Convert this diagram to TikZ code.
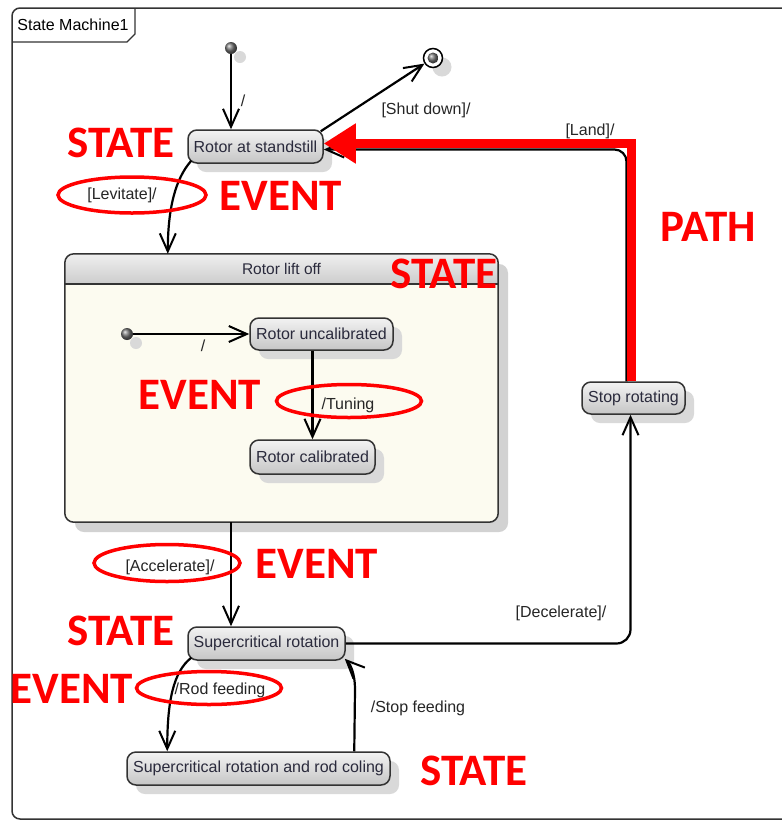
\documentclass[tikz,border=0pt]{standalone}
\usepackage{fontspec}
\setmainfont{Liberation Sans}
\newfontfamily\notefont{Carlito}
\usetikzlibrary{arrows.meta}
\usetikzlibrary{shadows}
\usetikzlibrary{shapes.geometric}
\definecolor{statetext}{HTML}{2A2A3C}
\definecolor{cream}{HTML}{FCFBF0}
\definecolor{notered}{HTML}{FF0000}

\begin{document}
\begin{tikzpicture}[x=1pt, y=-1pt,
    state/.style={draw=black!80, line width=1.5pt, rounded corners=9pt, top color=gray!10, bottom color=gray!45,
        minimum height=33pt, inner sep=2pt, text=statetext, font=\fontsize{16}{16}\selectfont,
        drop shadow={shadow xshift=9pt, shadow yshift=-9pt, fill=gray!30, opacity=1}},
    composite/.style={fill=cream, rounded corners=9pt, minimum width=433pt, minimum height=268pt, inner sep=0pt,
        drop shadow={shadow xshift=10pt, shadow yshift=-10pt, fill=gray!35, opacity=1}},
    initdot/.style={circle, inner sep=0pt, minimum size=12pt, shading=ball, ball color=black!55,
        drop shadow={shadow xshift=9pt, shadow yshift=-9pt, fill=gray!30, opacity=1}},
    trans/.style={draw=black, line width=2.2pt, -{Straight Barb[length=18pt, width=16pt, line width=2pt]}},
    guard/.style={text=black!85, font=\fontsize{16}{16}\selectfont},
    ring/.style={ellipse, draw=notered, line width=3.5pt, inner sep=0pt},
    note/.style={text=notered, font=\notefont\bfseries\fontsize{45}{45}\selectfont}]
\useasboundingbox (0,0) rectangle (782,823);
\fill[white] (0,0) rectangle (782,823);

\draw[line width=1.5pt, black!80, rounded corners=8pt] (782,8) -- (12,8) -- (12,819) -- (782,819);
\draw[line width=1.3pt, black!80] (135,8) -- (135,34) -- (127,42) -- (12,42);
\node[font=\fontsize{16}{16}\selectfont] (frametitle) at (73,25) {State Machine1};

\node[composite] (liftoff) at (281.5,388) {};
\begin{scope}
\clip[rounded corners=9pt] (liftoff.north west) rectangle (liftoff.south east);
\shade[top color=gray!12, bottom color=gray!40] (liftoff.north west) rectangle ([yshift=-30pt]liftoff.north east);
\end{scope}
\draw[line width=1.5pt, black!80] ([yshift=-30pt]liftoff.north west) -- ([yshift=-30pt]liftoff.north east);
\draw[line width=1.5pt, black!80, rounded corners=9pt] (liftoff.north west) rectangle (liftoff.south east);
\node[text=statetext, font=\fontsize{15.5}{15.5}\selectfont] (lifttitle) at ([yshift=-15pt]liftoff.north) {Rotor lift off};

\node[initdot] (init) at (231,48) {};
\node[circle, draw=black, line width=1.5pt, fill=white, minimum size=19pt, inner sep=0pt,
    drop shadow={shadow xshift=9pt, shadow yshift=-9pt, fill=gray!30, opacity=1}] (final) at (433,58) {};
\node[circle, inner sep=0pt, minimum size=11pt, shading=ball, ball color=black!55] (finalcore) at (final) {};
\node[initdot] (subinit) at (127,334) {};

\node[state, minimum width=135pt] (standstill) at (255.5,146.5) {Rotor at standstill};
\node[state, minimum width=143pt, minimum height=32pt] (uncal) at (321.5,334) {Rotor uncalibrated};
\node[state, minimum width=125pt, minimum height=34pt] (calib) at (312.5,457) {Rotor calibrated};
\node[state, minimum width=157pt] (super) at (266.5,643.5) {Supercritical rotation};
\node[state, minimum width=263pt] (rodcool) at (258.5,768.5) {Supercritical rotation and rod coling};
\node[state, minimum width=103pt, minimum height=32pt] (stop) at (633.5,398) {Stop rotating};

\draw[trans] (init) -- (init |- standstill.north);
\draw[trans] ([xshift=-3pt,yshift=-2pt]standstill.north east) -- (final);
\draw[trans] ([xshift=4pt,yshift=3pt]standstill.south west) .. controls +(-16,18) and +(0,-45) .. ([xshift=103pt]liftoff.north west);
\draw[trans] (subinit) -- (uncal.west);
\draw[trans] (calib.north |- uncal.south) -- (calib.north);
\draw[trans] ([xshift=-35.5pt]super.north |- liftoff.south) -- ([xshift=-35.5pt]super.north);
\draw[trans, rounded corners=14pt] (super.east) -| ([xshift=-3pt]stop.south);
\draw[trans, rounded corners=12pt] ([xshift=-7pt]stop.north) |- ([yshift=-3pt]standstill.east);
\draw[trans] ([xshift=4pt,yshift=3pt]super.south west) .. controls +(-18,14) and +(0,-50) .. ([xshift=41pt]rodcool.north west);
\draw[trans] ([xshift=228pt]rodcool.north west) -- (355,690) .. controls (355,672) and (350,664) .. ([xshift=-1pt,yshift=2pt]super.south east);
\draw[notered, line width=9pt, line join=miter, -{Triangle[length=32pt, width=38pt]}] ([xshift=-2pt]stop.north) |- ([yshift=3pt]standstill.east);

\node[guard] (tickinit) at (243,101) {/};
\node[guard] (shutlabel) at (426,110) {[Shut down]/};
\node[guard] (landlabel) at (590,131) {[Land]/};
\node[guard] (levlabel) at (122,195) {[Levitate]/};
\node[guard] (ticksub) at (203,346) {/};
\node[guard] (tunelabel) at (348,405) {/Tuning};
\node[guard] (acclabel) at (170,567) {[Accelerate]/};
\node[guard] (declabel) at (561,613) {[Decelerate]/};
\node[guard] (rodlabel) at (220,690) {/Rod feeding};
\node[guard] (stopfeedlabel) at (418,708) {/Stop feeding};

\node[ring, minimum width=148pt, minimum height=36pt] (levring) at (132,195) {};
\node[ring, minimum width=145pt, minimum height=33pt] (tunering) at (349,401) {};
\node[ring, minimum width=146pt, minimum height=37pt] (accring) at (167,563) {};
\node[ring, minimum width=145pt, minimum height=33pt] (rodring) at (209,688) {};

\node[note] (note1) at (121,143) {STATE};
\node[note] (note2) at (281,196) {EVENT};
\node[note] (note3) at (708,227) {PATH};
\node[note] (note4) at (444,274) {STATE};
\node[note] (note5) at (200,395) {EVENT};
\node[note] (note6) at (317,564) {EVENT};
\node[note] (note7) at (121,631) {STATE};
\node[note] (note8) at (72,689) {EVENT};
\node[note] (note9) at (474,771) {STATE};
\end{tikzpicture}
\end{document}
